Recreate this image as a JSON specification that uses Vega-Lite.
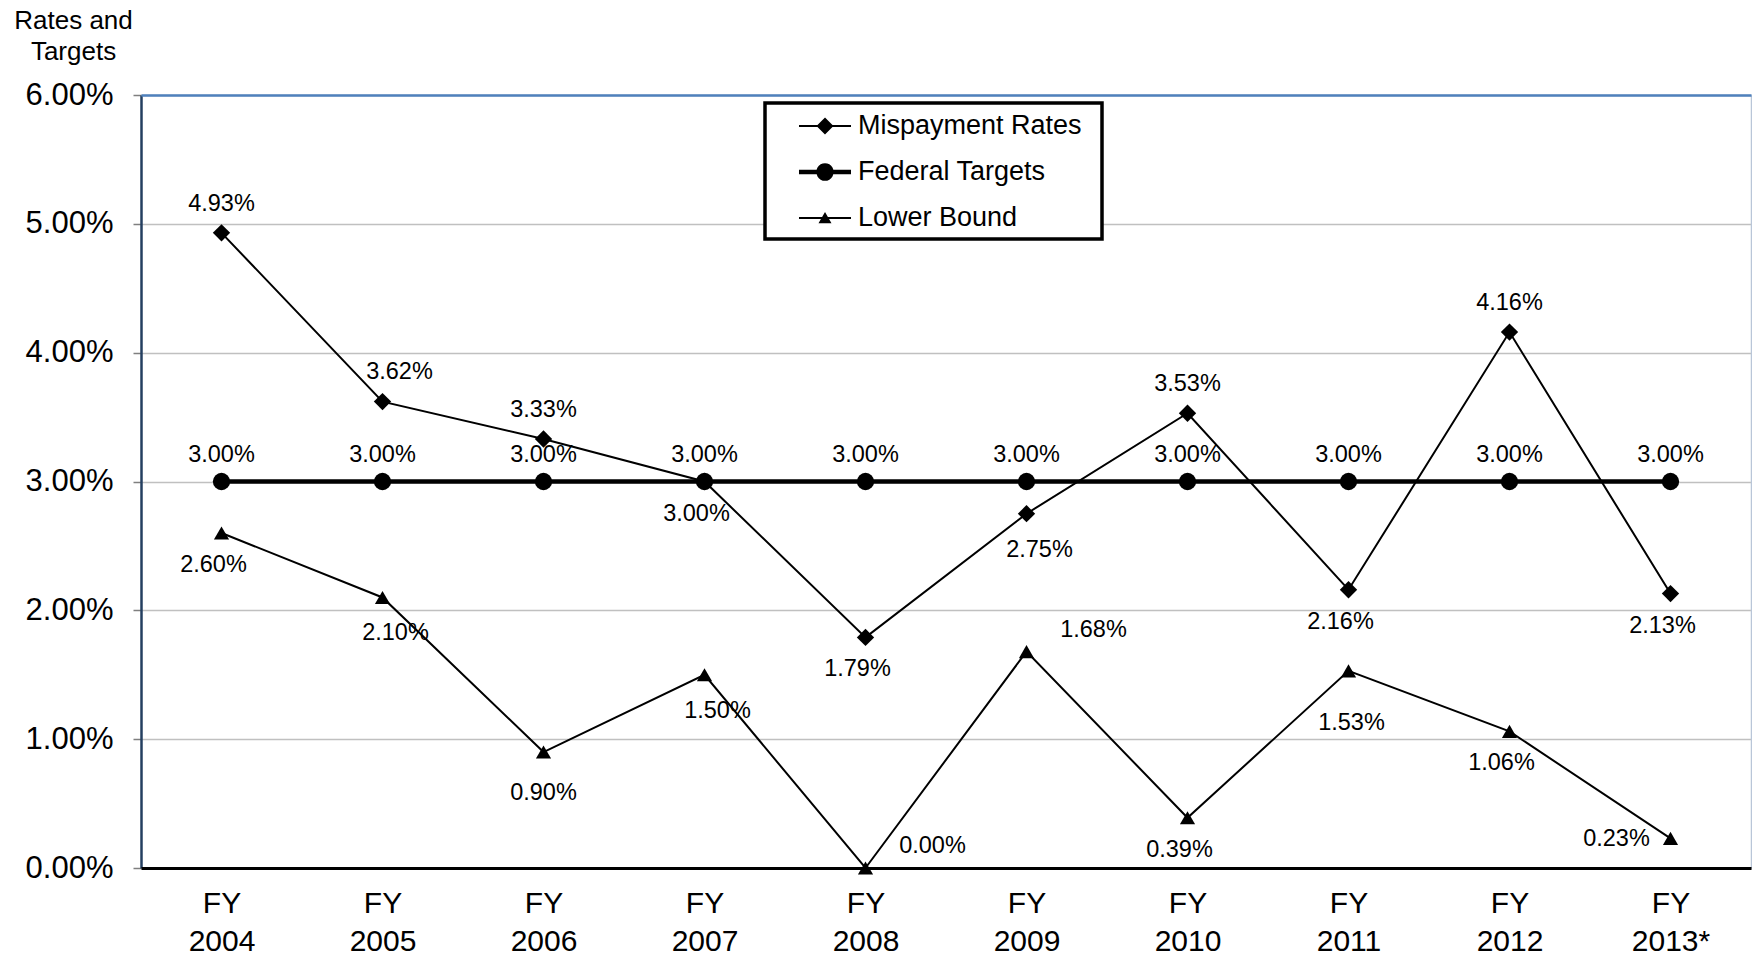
{
  "$schema": "https://vega.github.io/schema/vega-lite/v6.json",
  "width": 1610,
  "height": 773,
  "autosize": {"type": "none"},
  "padding": {"left": 141, "top": 95, "right": 1, "bottom": 89},
  "background": "white",
  "config": {
    "view": {"stroke": null},
    "font": "Liberation Sans, Arial, sans-serif",
    "text": {"font": "Liberation Sans, Arial, sans-serif"}
  },
  "data": {
    "values": [
      {"year": "FY 2004", "series": "Mispayment Rates", "value": 0.0493},
      {"year": "FY 2005", "series": "Mispayment Rates", "value": 0.0362},
      {"year": "FY 2006", "series": "Mispayment Rates", "value": 0.0333},
      {"year": "FY 2007", "series": "Mispayment Rates", "value": 0.0300},
      {"year": "FY 2008", "series": "Mispayment Rates", "value": 0.0179},
      {"year": "FY 2009", "series": "Mispayment Rates", "value": 0.0275},
      {"year": "FY 2010", "series": "Mispayment Rates", "value": 0.0353},
      {"year": "FY 2011", "series": "Mispayment Rates", "value": 0.0216},
      {"year": "FY 2012", "series": "Mispayment Rates", "value": 0.0416},
      {"year": "FY 2013*", "series": "Mispayment Rates", "value": 0.0213},
      {"year": "FY 2004", "series": "Federal Targets", "value": 0.03},
      {"year": "FY 2005", "series": "Federal Targets", "value": 0.03},
      {"year": "FY 2006", "series": "Federal Targets", "value": 0.03},
      {"year": "FY 2007", "series": "Federal Targets", "value": 0.03},
      {"year": "FY 2008", "series": "Federal Targets", "value": 0.03},
      {"year": "FY 2009", "series": "Federal Targets", "value": 0.03},
      {"year": "FY 2010", "series": "Federal Targets", "value": 0.03},
      {"year": "FY 2011", "series": "Federal Targets", "value": 0.03},
      {"year": "FY 2012", "series": "Federal Targets", "value": 0.03},
      {"year": "FY 2013*", "series": "Federal Targets", "value": 0.03},
      {"year": "FY 2004", "series": "Lower Bound", "value": 0.0260},
      {"year": "FY 2005", "series": "Lower Bound", "value": 0.0210},
      {"year": "FY 2006", "series": "Lower Bound", "value": 0.0090},
      {"year": "FY 2007", "series": "Lower Bound", "value": 0.0150},
      {"year": "FY 2008", "series": "Lower Bound", "value": 0.0000},
      {"year": "FY 2009", "series": "Lower Bound", "value": 0.0168},
      {"year": "FY 2010", "series": "Lower Bound", "value": 0.0039},
      {"year": "FY 2011", "series": "Lower Bound", "value": 0.0153},
      {"year": "FY 2012", "series": "Lower Bound", "value": 0.0106},
      {"year": "FY 2013*", "series": "Lower Bound", "value": 0.0023}
    ]
  },
  "encoding": {
    "x": {"field": "year", "type": "nominal", "sort": null, "scale": {"type": "point", "padding": 0.5}, "axis": null},
    "y": {"field": "value", "type": "quantitative", "scale": {"domain": [0, 0.06], "nice": false, "zero": true}, "axis": null}
  },
  "resolve": {"axis": {"x": "independent", "y": "independent"}},
  "layer": [
    {
      "transform": [{"filter": "datum.series !== 'Federal Targets'"}],
      "mark": {"type": "line", "color": "black", "strokeWidth": 2},
      "encoding": {
        "detail": {"field": "series"},
        "x": {"field": "year", "type": "nominal", "sort": null, "scale": {"type": "point", "padding": 0.5},
          "axis": {"orient": "bottom", "title": null, "labelExpr": "split(datum.label, ' ')", "labelFontSize": 30, "labelColor": "black",
            "labelFont": "Liberation Sans, Arial, sans-serif", "labelLineHeight": 38, "labelBaseline": "top", "labelPadding": 20, "labelAngle": 0,
            "ticks": false, "domainColor": "black", "domainWidth": 3, "grid": false, "zindex": 1}},
        "y": {"field": "value", "type": "quantitative", "scale": {"domain": [0, 0.06], "nice": false, "zero": true},
          "axis": {"orient": "left", "values": [0, 0.01, 0.02, 0.03, 0.04, 0.05, 0.06], "format": ".2%", "labelFontSize": 31,
            "labelFont": "Liberation Sans, Arial, sans-serif", "labelColor": "black", "labelPadding": 20, "tickSize": 8, "tickColor": "#7f7f7f", "tickWidth": 1.5,
            "domainColor": "#243f60", "domainWidth": 2.5, "grid": true, "gridColor": "#c0c0c0", "gridWidth": 1.5,
            "title": ["Rates and", "Targets"], "titleAngle": 0, "titleX": -68, "titleY": -75, "titleAlign": "center", "titleBaseline": "middle",
            "titleFontSize": 26, "titleFontWeight": "normal", "titleFont": "Liberation Sans, Arial, sans-serif", "titleColor": "black", "titleLineHeight": 31}}
      }
    },
    {
      "transform": [{"filter": "datum.series === 'Federal Targets'"}],
      "mark": {"type": "line", "color": "black", "strokeWidth": 4.5},
      "encoding": {
        "x": {"field": "year", "type": "nominal", "sort": null, "scale": {"type": "point", "padding": 0.5},
          "axis": {"orient": "top", "title": null, "labels": false, "ticks": false, "grid": false, "domainColor": "#4f81bd", "domainWidth": 2.5, "zindex": 1}},
        "y": {"field": "value", "type": "quantitative", "scale": {"domain": [0, 0.06], "nice": false, "zero": true},
          "axis": {"orient": "right", "title": null, "labels": false, "ticks": false, "grid": false, "domainColor": "#b9c6d8", "domainWidth": 1.5}}
      }
    },
    {
      "transform": [{"filter": "datum.series === 'Mispayment Rates'"}],
      "mark": {"type": "point", "shape": "diamond", "filled": true, "color": "black", "size": 300, "opacity": 1}
    },
    {
      "transform": [{"filter": "datum.series === 'Federal Targets'"}],
      "mark": {"type": "point", "shape": "circle", "filled": true, "color": "black", "size": 300, "opacity": 1}
    },
    {
      "transform": [{"filter": "datum.series === 'Lower Bound'"}],
      "mark": {"type": "point", "shape": "triangle-up", "filled": true, "color": "black", "size": 230, "opacity": 1}
    },
    {
      "mark": {"type": "point", "filled": true, "color": "black", "opacity": 0, "size": 10},
      "encoding": {
        "shape": {
          "field": "series", "type": "nominal",
          "scale": {
            "domain": ["Mispayment Rates", "Federal Targets", "Lower Bound"],
            "range": [
              "M0.733,-0.067H4.2V0.067H0.733Z M2.467,-0.567L3.033,0L2.467,0.567L1.9,0Z",
              "M0.733,-0.15H4.2V0.15H0.733Z M1.9,0A0.567,0.567,0,1,1,3.033,0A0.567,0.567,0,1,1,1.9,0Z",
              "M0.733,-0.067H4.2V0.067H0.733Z M2.467,-0.4L2.9,0.35L2.033,0.35Z"
            ]
          },
          "legend": {
            "orient": "none", "legendX": 624, "legendY": 8, "direction": "vertical",
            "title": " ", "titleOrient": "right", "titleFontSize": 4, "titlePadding": 12,
            "symbolSize": 900, "symbolOpacity": 1, "symbolFillColor": "black", "symbolStrokeColor": "black", "symbolStrokeWidth": 0,
            "labelOffset": 55, "labelFontSize": 27, "labelColor": "black", "labelFont": "Liberation Sans, Arial, sans-serif", "labelLimit": 400,
            "rowPadding": 18, "padding": 8, "strokeColor": "black", "fillColor": "white",
            "encoding": {"legend": {"strokeWidth": {"value": 3.5}}}
          }
        }
      }
    },
    {
      "transform": [{"filter": {"and": [{"field": "series", "equal": "Mispayment Rates"}, {"field": "year", "oneOf": ["FY 2004", "FY 2006", "FY 2010", "FY 2012"]}]}}],
      "mark": {"type": "text", "fontSize": 23.5, "color": "black", "dy": -29},
      "encoding": {"text": {"field": "value", "type": "quantitative", "format": ".2%"}}
    },
    {
      "transform": [{"filter": {"and": [{"field": "series", "equal": "Mispayment Rates"}, {"field": "year", "oneOf": ["FY 2005"]}]}}],
      "mark": {"type": "text", "fontSize": 23.5, "color": "black", "dy": -30, "dx": 17},
      "encoding": {"text": {"field": "value", "type": "quantitative", "format": ".2%"}}
    },
    {
      "transform": [{"filter": {"field": "series", "equal": "Federal Targets"}}],
      "mark": {"type": "text", "fontSize": 23.5, "color": "black", "dy": -27},
      "encoding": {"text": {"field": "value", "type": "quantitative", "format": ".2%"}}
    },
    {
      "transform": [{"filter": {"or": [
        {"and": [{"field": "series", "equal": "Mispayment Rates"}, {"field": "year", "oneOf": ["FY 2007", "FY 2008", "FY 2011", "FY 2013*"]}]},
        {"and": [{"field": "series", "equal": "Lower Bound"}, {"field": "year", "oneOf": ["FY 2004", "FY 2010", "FY 2012"]}]}
      ]}}],
      "mark": {"type": "text", "fontSize": 23.5, "color": "black", "dy": 32, "dx": -8},
      "encoding": {"text": {"field": "value", "type": "quantitative", "format": ".2%"}}
    },
    {
      "transform": [{"filter": {"or": [
        {"and": [{"field": "series", "equal": "Mispayment Rates"}, {"field": "year", "oneOf": ["FY 2009"]}]},
        {"and": [{"field": "series", "equal": "Lower Bound"}, {"field": "year", "oneOf": ["FY 2005", "FY 2007"]}]}
      ]}}],
      "mark": {"type": "text", "fontSize": 23.5, "color": "black", "dy": 36, "dx": 13},
      "encoding": {"text": {"field": "value", "type": "quantitative", "format": ".2%"}}
    },
    {
      "transform": [{"filter": {"and": [{"field": "series", "equal": "Lower Bound"}, {"field": "year", "oneOf": ["FY 2006"]}]}}],
      "mark": {"type": "text", "fontSize": 23.5, "color": "black", "dy": 41},
      "encoding": {"text": {"field": "value", "type": "quantitative", "format": ".2%"}}
    },
    {
      "transform": [{"filter": {"and": [{"field": "series", "equal": "Lower Bound"}, {"field": "year", "oneOf": ["FY 2011"]}]}}],
      "mark": {"type": "text", "fontSize": 23.5, "color": "black", "dy": 52, "dx": 3},
      "encoding": {"text": {"field": "value", "type": "quantitative", "format": ".2%"}}
    },
    {
      "transform": [{"filter": {"and": [{"field": "series", "equal": "Lower Bound"}, {"field": "year", "oneOf": ["FY 2008", "FY 2009"]}]}}],
      "mark": {"type": "text", "fontSize": 23.5, "color": "black", "dy": -22, "dx": 67},
      "encoding": {"text": {"field": "value", "type": "quantitative", "format": ".2%"}}
    },
    {
      "transform": [{"filter": {"and": [{"field": "series", "equal": "Lower Bound"}, {"field": "year", "oneOf": ["FY 2013*"]}]}}],
      "mark": {"type": "text", "fontSize": 23.5, "color": "black", "dy": 1, "dx": -54},
      "encoding": {"text": {"field": "value", "type": "quantitative", "format": ".2%"}}
    }
  ]
}
